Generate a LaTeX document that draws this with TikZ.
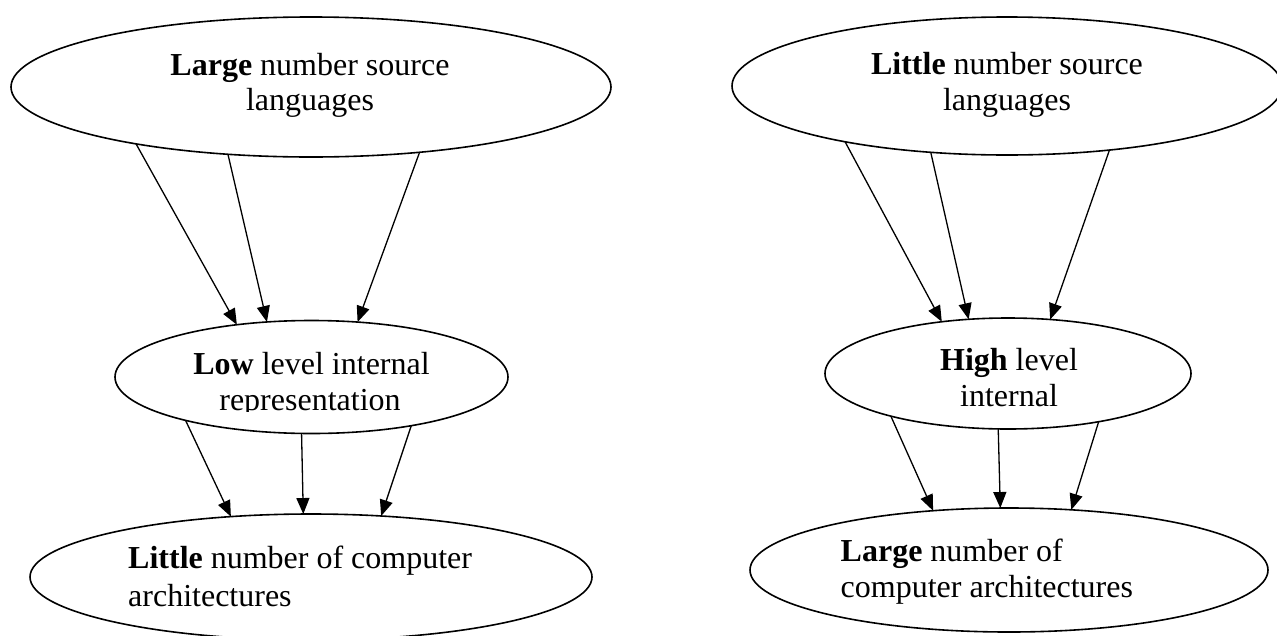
\documentclass[tikz,border=0pt]{standalone}
\usepackage{fontspec}
\setmainfont{Liberation Serif}
\usetikzlibrary{shapes.geometric,arrows.meta}
\begin{document}
\begin{tikzpicture}[x=1pt,y=-1pt]
\tikzset{
  oval/.style={draw, ellipse, line width=1.6pt, inner sep=0pt, outer sep=0pt},
  lbl/.style={inner sep=0pt, font=\fontsize{32}{36}\selectfont},
  conn/.style={line width=1.3pt, -{Triangle[length=16pt,width=13pt]}}
}
\useasboundingbox (0,0) rectangle (1277,635);
% left column
\node[oval, minimum width=600pt, minimum height=140pt] (TL) at (311,87) {};
\node[oval, minimum width=393pt, minimum height=113pt] (ML) at (311.5,377) {};
\node[oval, minimum width=562pt, minimum height=126pt] (BL) at (311,577) {};
% right column
\node[oval, minimum width=550pt, minimum height=138pt] (TR) at (1007,86) {};
\node[oval, minimum width=366pt, minimum height=111pt] (MR) at (1008,373.5) {};
\node[oval, minimum width=518pt, minimum height=124pt] (BR) at (1009,570) {};
% texts
\node[lbl, anchor=base] (TLa) at (310,75) {\textbf{Large} number source};
\node[lbl, anchor=base] (TLb) at (310,110) {languages};
\node[lbl, anchor=base] (MLa) at (311.5,374.5) {\textbf{Low} level internal};
\begin{scope}
  \clip (200,385) rectangle (420,411);
  \node[lbl, anchor=base] (MLb) at (310,410) {representation};
\end{scope}
\node[lbl, anchor=base west] (BLa) at (128,568) {\textbf{Little} number of computer};
\node[lbl, anchor=base west] (BLb) at (128,606) {architectures};
\node[lbl, anchor=base] (TRa) at (1007,74) {\textbf{Little} number source};
\node[lbl, anchor=base] (TRb) at (1007,110.5) {languages};
\node[lbl, anchor=base] (MRa) at (1009,370) {\textbf{High} level};
\node[lbl, anchor=base] (MRb) at (1009,406) {internal};
\node[lbl, anchor=base west] (BRa) at (840.5,561.5) {\textbf{Large} number of};
\node[lbl, anchor=base west] (BRb) at (840.5,597.5) {computer architectures};
% connectors left
\draw[conn] (TL.198.2) -- (ML.145);
\draw[conn] (TL.219.6) -- (ML.129.35);
\draw[conn] (TL.329.6) -- (ML.50.65);
\draw[conn] (ML.199.2) -- (BL.143.8);
\draw[conn] (ML.260.4) -- (BL.97);
\draw[conn] (ML.334.2) -- (BL.41.4);
% connectors right
\draw[conn] (TR.199.15) -- (MR.142.9);
\draw[conn] (TR.221.9) -- (MR.126.4);
\draw[conn] (TR.328.15) -- (MR.52.8);
\draw[conn] (MR.200.6) -- (BR.142);
\draw[conn] (MR.260.3) -- (BR.98.5);
\draw[conn] (MR.332.45) -- (BR.44.35);
\end{tikzpicture}
\end{document}
